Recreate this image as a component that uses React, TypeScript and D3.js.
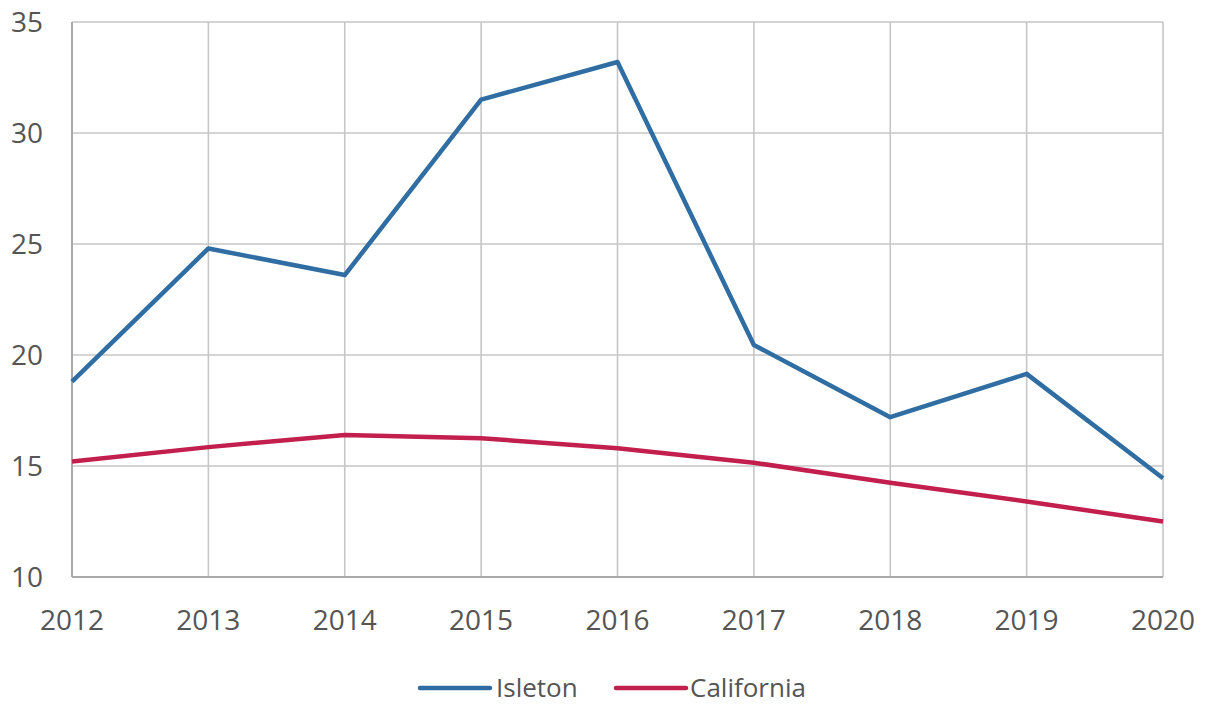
import React from "react";
import * as d3 from "d3";

const years = [2012, 2013, 2014, 2015, 2016, 2017, 2018, 2019, 2020];
const isleton = [18.8, 24.8, 23.6, 31.5, 33.2, 20.45, 17.2, 19.15, 14.45];
const california = [15.2, 15.85, 16.4, 16.25, 15.8, 15.15, 14.25, 13.4, 12.5];
const yTicks = [10, 15, 20, 25, 30, 35];
const seriesNames = ["Isleton", "California"];
const colors = ["#2f6da3", "#c21f4e"];

export default function App() {
  const W = 1208, H = 704;
  const left = 72, right = 1163, top = 22, bottom = 577;
  const x = d3.scaleLinear().domain([2012, 2020]).range([left, right]);
  const y = d3.scaleLinear().domain([10, 35]).range([bottom, top]);
  const line = d3.line<[number, number]>().x(d => x(d[0])).y(d => y(d[1]));
  const series = [isleton, california];
  const font = "'Open Sans', 'Liberation Sans', sans-serif";
  const legendItems = [
    { lx: 420, tx: 496 },
    { lx: 616, tx: 690 },
  ];
  return (
    <svg width={W} height={H} style={{ position: "absolute", left: 0, top: 0, background: "#fff" }}>
      <g stroke="#c6c6c6" strokeWidth={1.6}>
        {yTicks.map(t => (
          <line key={"h" + t} x1={left} x2={right} y1={y(t)} y2={y(t)} />
        ))}
        {years.map(yr => (
          <line key={"v" + yr} x1={x(yr)} x2={x(yr)} y1={top} y2={bottom} />
        ))}
      </g>
      <line x1={left} x2={right} y1={bottom} y2={bottom} stroke="#a9a9a9" strokeWidth={2} />
      <line x1={left} x2={left} y1={top} y2={bottom} stroke="#a9a9a9" strokeWidth={2} />
      {yTicks.map(t => (
        <text key={"yl" + t} x={43} y={y(t)} dy="0.35em" textAnchor="end" fontFamily={font} fontSize={28} fill="#555">
          {t}
        </text>
      ))}
      {years.map(yr => (
        <text key={"xl" + yr} x={x(yr)} y={630} textAnchor="middle" fontFamily={font} fontSize={28} fill="#555">
          {yr}
        </text>
      ))}
      {series.map((s, i) => (
        <path
          key={"s" + i}
          d={line(years.map((yr, j) => [yr, s[j]] as [number, number])) || ""}
          fill="none"
          stroke={colors[i]}
          strokeWidth={4.5}
          strokeLinejoin="round"
        />
      ))}
      {seriesNames.map((n, i) => (
        <g key={"lg" + i}>
          <line x1={legendItems[i].lx} x2={legendItems[i].lx + 70} y1={688} y2={688} stroke={colors[i]} strokeWidth={4.5} strokeLinecap="round" />
          <text x={legendItems[i].tx} y={697} fontFamily={font} fontSize={26} fill="#555">
            {n}
          </text>
        </g>
      ))}
    </svg>
  );
}
